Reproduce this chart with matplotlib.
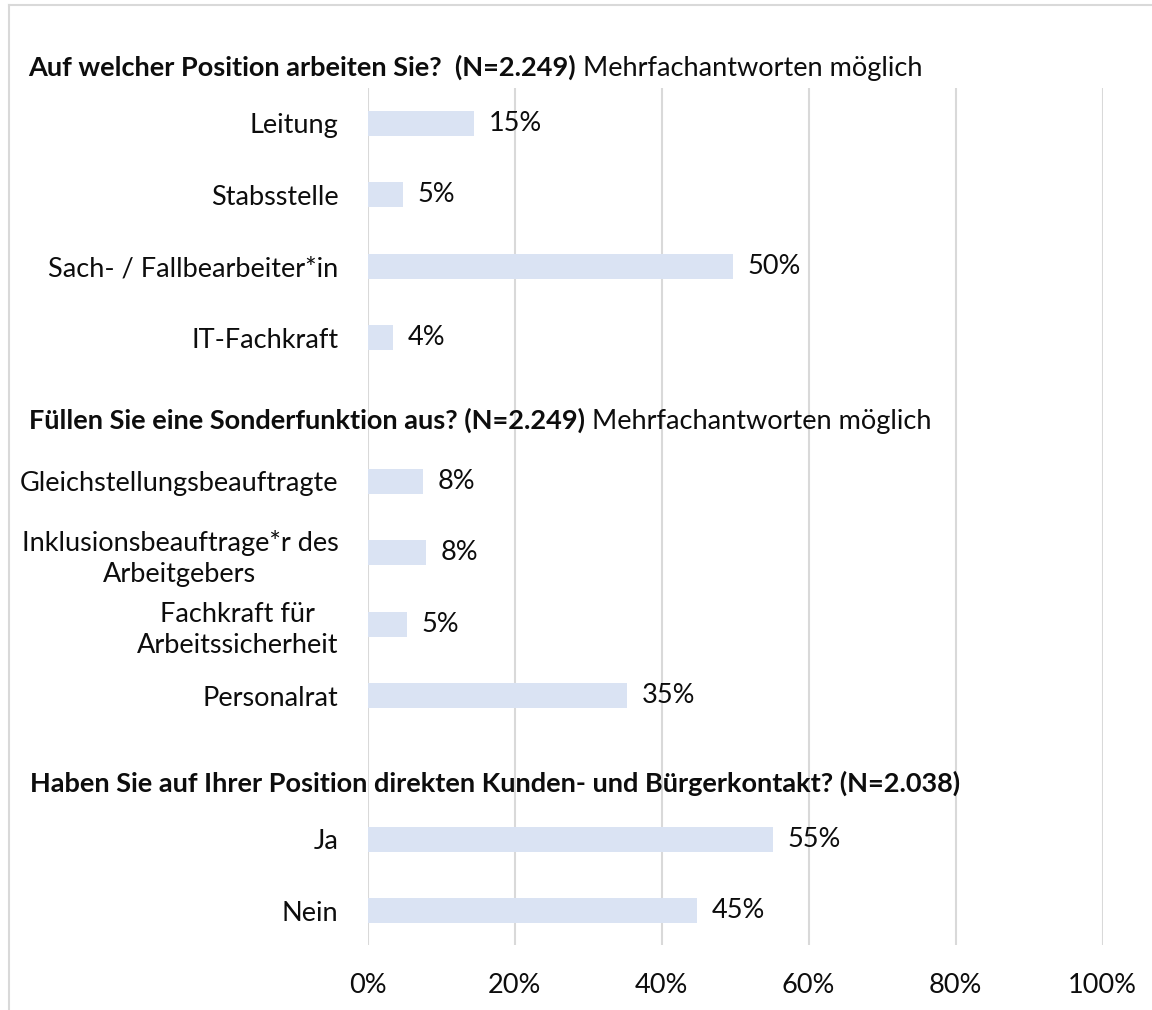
import matplotlib.pyplot as plt
import matplotlib.transforms as mtransforms
from matplotlib.lines import Line2D
import numpy as np

plt.rcParams['font.family'] = ['Lato', 'DejaVu Sans']

# data (share of respondents, %)
pos_labels = ['Leitung', 'Stabsstelle', 'Sach- / Fallbearbeiter*in', 'IT-Fachkraft']
pos_values = [14.5, 4.8, 49.7, 3.5]
pos_text = ['15%', '5%', '50%', '4%']

sonder_labels = ['Gleichstellungsbeauftragte', 'Inklusionsbeauftrage*r des\nArbeitgebers',
                 'Fachkraft für\nArbeitssicherheit', 'Personalrat']
sonder_values = [7.5, 7.9, 5.4, 35.3]
sonder_text = ['8%', '8%', '5%', '35%']

kontakt_labels = ['Ja', 'Nein']
kontakt_values = [55.2, 44.8]
kontakt_text = ['55%', '45%']

headers_bold = ['Auf welcher Position arbeiten Sie?  (N=2.249)',
                'Füllen Sie eine Sonderfunktion aus? (N=2.249)',
                'Haben Sie auf Ihrer Position direkten Kunden- und Bürgerkontakt? (N=2.038)']
headers_regular = [' Mehrfachantworten möglich', ' Mehrfachantworten möglich', '']

x_ticks = [0, 20, 40, 60, 80, 100]

# layout: rows per section, with a gap row for the section header
labels = pos_labels + sonder_labels + kontakt_labels
values = pos_values + sonder_values + kontakt_values
texts = pos_text + sonder_text + kontakt_text
ypos = [0, 1, 2, 3, 5, 6, 7, 8, 10, 11]
header_y = [-0.66, 4.27, 9.34]   # baselines
header_x = [28, 29, 30]

bar_color = '#DAE3F3'
grid_color = '#D9D9D9'
text_color = '#0d0d0d'
fs = 19.5

fig = plt.figure(figsize=(11.52, 10.10), dpi=100)
ax = fig.add_axes([367.5 / 1152, 65 / 1010, 735 / 1152, 857 / 1010])

ax.barh(ypos, values, height=0.35, color=bar_color, zorder=2)
for y, v, t in zip(ypos, values, texts):
    ax.annotate(t, xy=(v, y), xytext=(10.5, 0), textcoords='offset points',
                va='center', ha='left', fontsize=fs, color=text_color)

ax.set_xlim(0, 100)
ax.set_ylim(11.48, -0.49)
ax.set_xticks(x_ticks)
ax.set_xticklabels([f'{t}%' for t in x_ticks], fontsize=fs, color=text_color)
ax.set_yticks(ypos)
ax.set_yticklabels(labels, fontsize=fs, color=text_color, multialignment='center',
                   linespacing=1.3)
ax.tick_params(axis='x', length=0, pad=20)
ax.tick_params(axis='y', length=0, pad=21)
ax.xaxis.grid(True, color=grid_color, linewidth=1.5, zorder=0)
ax.set_axisbelow(True)
for s in ax.spines.values():
    s.set_visible(False)

# section headers: bold part followed by regular part
trans = mtransforms.blended_transform_factory(fig.transFigure, ax.transData)
fig.canvas.draw()
renderer = fig.canvas.get_renderer()
for hx, hy, hb, hr in zip(header_x, header_y, headers_bold, headers_regular):
    tb = ax.text(hx / 1152, hy, hb, transform=trans, fontsize=fs, fontweight='bold',
                 va='baseline', ha='left', color=text_color, zorder=3)
    if hr:
        bb = tb.get_window_extent(renderer)
        ax.text(bb.x1 / 1152, hy, hr, transform=trans, fontsize=fs,
                va='baseline', ha='left', color=text_color, zorder=3)

# light frame of the chart area (top and left edges visible)
fig.add_artist(Line2D([8.5 / 1152, 1.0], [1005 / 1010, 1005 / 1010],
                      transform=fig.transFigure, color=grid_color, lw=1.5))
fig.add_artist(Line2D([8.5 / 1152, 8.5 / 1152], [0, 1005 / 1010],
                      transform=fig.transFigure, color=grid_color, lw=1.5))

fig.savefig('out.png', dpi=100)
